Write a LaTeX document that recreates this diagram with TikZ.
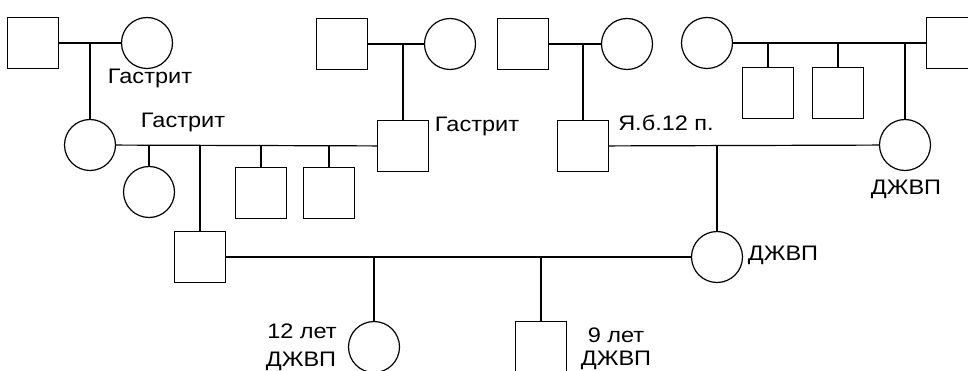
\documentclass[tikz,border=0pt]{standalone}
\usepackage{fontspec}
\setmainfont{Liberation Sans}[FakeStretch=1.12]
\begin{document}
\begin{tikzpicture}[x=1pt,y=-1pt,
  ln/.style={line width=1.2pt},
  male/.style={draw,line width=1.2pt,minimum size=51pt,inner sep=0pt,shape=rectangle},
  fem/.style={draw,line width=1.2pt,minimum size=51pt,inner sep=0pt,shape=circle},
  lbl/.style={anchor=base,inner sep=0pt,font=\fontsize{21}{24}\selectfont}]
\useasboundingbox (0,0) rectangle (968,371);
\clip (0,0) rectangle (968,371);
% generation 1
\node[male] (A) at (33,43) {};
\node[fem]  (B) at (147,43) {};
\node[male] (H) at (342,44) {};
\node[fem]  (I) at (450,44) {};
\node[male] (J) at (523,44) {};
\node[fem]  (K) at (627,44) {};
\node[fem]  (O) at (707,43) {};
\node[male] (P) at (952,43) {};
% generation 2
\node[fem]  (C) at (90,145) {};
\node[male] (F) at (403,146) {};
\node[fem]  (D) at (149,192) {};
\node[male] (E1) at (261,193) {};
\node[male] (E2) at (329,193) {};
\node[male] (L) at (583,146) {};
\node[male] (Q) at (768,93) {};
\node[male] (R) at (838,93) {};
\node[fem]  (M) at (905,145) {};
% generation 3
\node[male] (G) at (200,257) {};
\node[fem]  (N) at (717,257) {};
% generation 4
\node[fem]  (S) at (374,347) {};
\node[male] (T) at (541,347) {};
% marriage lines
\draw[ln] (A) -- (B);
\draw[ln] (H) -- (I);
\draw[ln] (J) -- (K);
\draw[ln] (O) -- (P);
\draw[ln] (C) -- (F);
\draw[ln] (L) -- (M);
\draw[ln] (G) -- (N);
% descent lines
\draw[ln] (A.east -| C) -- (C.north);
\draw[ln] (H.east -| F) -- (F.north);
\draw[ln] (J.east -| L) -- (L.north);
\draw[ln] (O.east -| Q) -- (Q.north);
\draw[ln] (O.east -| R) -- (R.north);
\draw[ln] (O.east -| M) -- (M.north);
\draw[ln] (C.east -| D) -- (D.north);
\draw[ln] (C.east -| G) -- (G.north);
\draw[ln] (C.east -| E1) -- (E1.north);
\draw[ln] (C.east -| E2) -- (E2.north);
\draw[ln] (L.east -| N) -- (N.north);
\draw[ln] (G.east -| S) -- (S.north);
\draw[ln] (G.east -| T) -- (T.north);
% labels
\node[lbl] (t1) at (150,84) {Гастрит};
\node[lbl] (t2) at (183,128) {Гастрит};
\node[lbl] (t3) at (477,132) {Гастрит};
\node[lbl] (t4) at (666,131) {Я.б.12 п.};
\node[lbl] (t5) at (906,195) {ДЖВП};
\node[lbl] (t6) at (783,260) {ДЖВП};
\node[lbl] (t7) at (302,338) {12 лет};
\node[lbl] (t8) at (301,366) {ДЖВП};
\node[lbl] (t9) at (616,342) {9 лет};
\node[lbl] (t10) at (616,365) {ДЖВП};
\end{tikzpicture}
\end{document}
